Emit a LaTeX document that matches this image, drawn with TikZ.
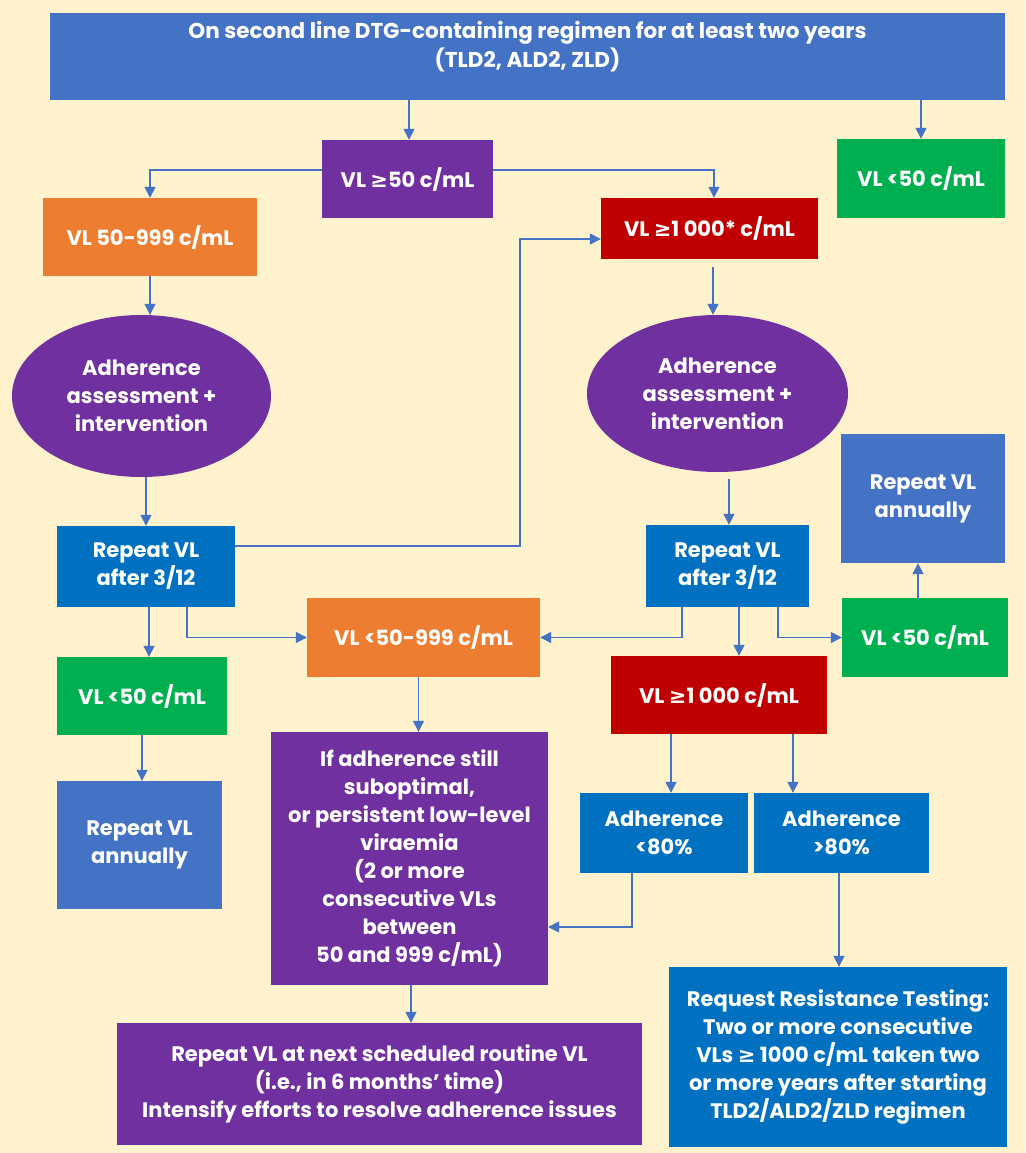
\documentclass[tikz,border=0pt]{standalone}
\usepackage{fontspec}
\setmainfont{Poppins}
\newfontfamily\symfont{DejaVu Sans}
\usetikzlibrary{shapes.geometric,arrows.meta,calc}

\definecolor{bgcream}{HTML}{FFF2CC}
\definecolor{cblue}{HTML}{4472C4}
\definecolor{cdblue}{HTML}{0070C0}
\definecolor{cpurple}{HTML}{7030A0}
\definecolor{cgreen}{HTML}{00B050}
\definecolor{corange}{HTML}{ED7D31}
\definecolor{cred}{HTML}{C00000}
\definecolor{cline}{HTML}{4472C4}

\newcommand{\gesym}{{\symfont\bfseries ≥}}

\tikzset{
  box/.style n args={3}{draw=none, fill=#1, text=white, inner sep=0pt,
    minimum width=#2, minimum height=#3, align=center,
    font=\fontsize{21}{28}\selectfont\bfseries},
  oval/.style n args={3}{box={#1}{#2}{#3}, ellipse},
  label text/.style={text=white, inner sep=0pt, align=center,
    font=\fontsize{21.5}{29}\selectfont\bfseries},
  arr/.style={draw=cline, line width=1.4pt, -{Triangle[length=11pt,width=11pt]}},
}

\begin{document}
\begin{tikzpicture}[x=1pt,y=-1pt]
  \fill[bgcream] (0,0) rectangle (1025,1153);
  \useasboundingbox (0,0) rectangle (1025,1153);

  % boxes
  \node[box={cblue}{955pt}{87pt}] (top) at (527.5,56.5) {};
  \node[label text] (toptext) at (527.5,46.5)
    {On second line DTG-containing regimen for at least two years\\(TLD2, ALD2, ZLD)};
  \node[box={cpurple}{171pt}{78pt}] (vlge) at (407.5,179) {VL \gesym50 c/mL};
  \node[box={cgreen}{168pt}{79pt}] (lowa) at (921,178.5) {VL <50 c/mL};
  \node[box={corange}{214pt}{78pt}] (mid) at (150,237) {VL 50-999 c/mL};
  \node[box={cred}{217pt}{61pt}] (higha) at (709.5,228.5) {VL \gesym1 000* c/mL};
  \node[oval={cpurple}{259pt}{162pt}] (ellL) at (141.5,396)
    {Adherence\\assessment +\\intervention};
  \node[oval={cpurple}{261pt}{157pt}] (ellR) at (717.5,393.5)
    {Adherence\\assessment +\\intervention};
  \node[box={cdblue}{178pt}{81pt}] (repL) at (146,566.5) {Repeat VL\\after 3/12};
  \node[box={cdblue}{163pt}{82pt}] (repR) at (727.5,566) {Repeat VL\\after 3/12};
  \node[box={cblue}{164pt}{129pt}] (annR) at (923,498.5) {Repeat VL\\annually};
  \node[box={cgreen}{166pt}{79pt}] (lowR) at (925,637.5) {VL <50 c/mL};
  \node[box={corange}{233pt}{79pt}] (llv) at (423.5,637.5) {VL <50-999 c/mL};
  \node[box={cgreen}{170pt}{78pt}] (lowL) at (142,696) {VL <50 c/mL};
  \node[box={cblue}{165pt}{128pt}] (annL) at (139.5,845) {Repeat VL\\annually};
  \node[box={cpurple}{277pt}{253pt}] (susp) at (409.5,858.5)
    {If adherence still\\suboptimal,\\or persistent low-level\\viraemia\\(2 or more\\consecutive VLs\\between\\50 and 999 c/mL)};
  \node[box={cred}{216pt}{78pt}] (highb) at (719,695) {VL \gesym1 000 c/mL};
  \node[box={cdblue}{168pt}{80pt}] (adlo) at (664,833) {Adherence\\<80\%};
  \node[box={cdblue}{175pt}{80pt}] (adhi) at (841.5,833) {Adherence\\>80\%};
  \node[box={cdblue}{338pt}{180pt}] (resist) at (838,1057)
    {Request Resistance Testing:\\Two or more consecutive\\VLs \gesym{} 1000 c/mL taken two\\or more years after starting\\TLD2/ALD2/ZLD regimen};
  \node[box={cpurple}{525pt}{122pt}] (routine) at (379.5,1084)
    {Repeat VL at next scheduled routine VL\\(i.e., in 6 months’ time)\\Intensify efforts to resolve adherence issues};

  % bend points
  \coordinate (c409) at (409,0);
  \coordinate (k1) at (520,546);
  \coordinate (k2) at (520,239);
  \coordinate (k3) at (632,927);

  % connectors
  \draw[arr] (top.south -| c409) -- (vlge.north -| c409);
  \draw[arr] (top.south -| lowa.north) -- (lowa.north);
  \draw[arr] ($(vlge.west)+(0,-9)$) -| (mid.north);
  \draw[arr] ($(vlge.east)+(0,-9)$) -| ($(higha.north)+(4.5,0)$);
  \draw[arr] (mid.south) -- (mid.south |- ellL.north);
  \draw[arr] (repL.north |- ellL.south) -- (repL.north);
  \draw[arr] (repL.east |- k1) -- (k1) -- (k2) -- (k2 -| higha.west);
  \draw[arr] ($(higha.south)+(3.5,8)$) -- ($(higha.south |- ellR.north)+(3.5,0)$);
  \draw[arr] ($(repR.north |- ellR.south)+(1.5,7)$) -- ($(repR.north)+(1.5,0)$);
  \draw[arr] ($(lowR.north)+(-7,0)$) -- ($(lowR.north |- annR.south)+(-7,0)$);
  \draw[arr] ($(repR.south)+(-45.5,0)$) |- (llv.east);
  \draw[arr] ($(repR.south)+(11.5,0)$) -- ($(repR.south |- highb.north)+(11.5,0)$);
  \draw[arr] ($(repR.south)+(50.5,0)$) |- (lowR.west);
  \draw[arr] ($(repL.south)+(3,0)$) -- ($(repL.south |- lowL.north)+(3,0)$);
  \draw[arr] ($(repL.south)+(41,0)$) |- (llv.west);
  \draw[arr] ($(llv.south)+(-5,0)$) -- ($(llv.south |- susp.north)+(-5,0)$);
  \draw[arr] (lowL.south) -- (lowL.south |- annL.north);
  \draw[arr] ($(susp.south)+(1.5,0)$) -- ($(susp.south |- routine.north)+(1.5,0)$);
  \draw[arr] ($(highb.south)+(-48,0)$) -- ($(highb.south |- adlo.north)+(-48,0)$);
  \draw[arr] ($(highb.south)+(74,0)$) -- ($(highb.south |- adhi.north)+(74,0)$);
  \draw[arr] (adlo.south -| k3) -- (k3) -- (k3 -| susp.east);
  \draw[arr] ($(adhi.south)+(-2.5,0)$) -- ($(adhi.south |- resist.north)+(-2.5,0)$);
\end{tikzpicture}
\end{document}
